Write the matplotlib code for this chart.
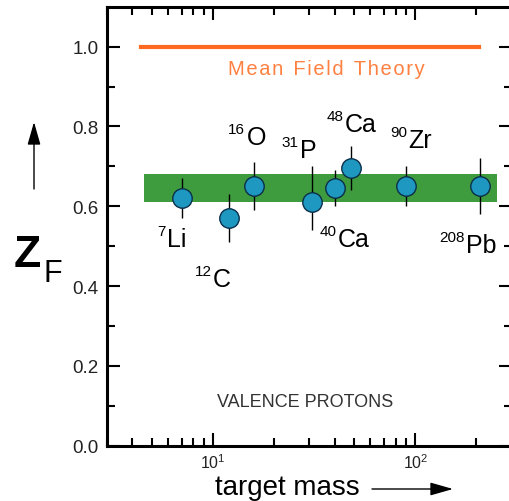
import matplotlib
matplotlib.use("Agg")
import matplotlib.pyplot as plt

plt.rcParams['font.family'] = ['Liberation Sans', 'DejaVu Sans']
plt.rcParams['mathtext.fontset'] = 'custom'
plt.rcParams['mathtext.rm'] = 'Liberation Sans'

# valence proton quenching factors
nuclei = ['Li', 'C', 'O', 'P', 'Ca', 'Ca', 'Zr', 'Pb']
mass_no = ['7', '12', '16', '31', '40', '48', '90', '208']
masses = [7, 12, 16, 31, 40, 48, 90, 208]
zf = [0.62, 0.57, 0.65, 0.61, 0.645, 0.695, 0.65, 0.65]
err_lo = [0.05, 0.06, 0.06, 0.07, 0.045, 0.055, 0.05, 0.07]
err_hi = [0.05, 0.06, 0.06, 0.09, 0.045, 0.055, 0.05, 0.07]

mft_value = 1.0
mft_range = [4.4, 206]
band_lo, band_hi = 0.61, 0.68
band_range = [4.57, 253]

# where the element names sit (left edge of symbol, baseline)
lab_x = [5.93, 10.0, 14.7, 26.8, 41.3, 44.7, 92.4, 178]
lab_y = [0.501, 0.400, 0.756, 0.723, 0.500, 0.789, 0.749, 0.485]

fig = plt.figure(figsize=(5.1, 5.02), dpi=100)
ax = fig.add_axes([0.2098, 0.1102, 0.7941, 0.8743])
ax.set_xscale('log')
ax.set_xlim(3, 300)
ax.set_ylim(0, 1.1)

ax.fill_between(band_range, band_lo, band_hi, color='#3e9c3e', lw=0, zorder=1)
ax.plot(mft_range, [mft_value, mft_value], color='#ff6a20', lw=3, zorder=2)
# letter-spaced label (hair spaces between letters, en spaces between words)
mft_label = '\u2002'.join('\u200a'.join(w) for w in 'Mean Field Theory'.split())
ax.text(36.5, 0.932, mft_label, color='#ff8040', fontsize=14.5,
        ha='center', va='baseline')

ax.errorbar(masses, zf, yerr=[err_lo, err_hi], fmt='none', ecolor='k',
            elinewidth=1, capsize=0, zorder=3)
ax.plot(masses, zf, 'o', ms=14, mfc='#1e98c0', mec='#0a2f4a', mew=1,
        zorder=4)

for el, a, x, y in zip(nuclei, mass_no, lab_x, lab_y):
    ax.text(x, y, el, fontsize=18, ha='left', va='baseline')
    ax.annotate(a, xy=(x, y), xytext=(-1, 8), textcoords='offset points',
                fontsize=11, ha='right', va='baseline')

ax.text(28.4, 0.100, 'VALENCE PROTONS', fontsize=13, color='#333333',
        ha='center', va='baseline')

ax.set_yticks([0, 0.2, 0.4, 0.6, 0.8, 1.0])
ax.set_yticks([0.1, 0.3, 0.5, 0.7, 0.9], minor=True)
ax.set_yticklabels(['0.0', '0.2', '0.4', '0.6', '0.8', '1.0'])
ax.tick_params(which='both', direction='in', top=True, right=True, width=1.5,
               colors='k')
ax.tick_params(which='major', length=9.5)
ax.tick_params(which='minor', length=5.5)
ax.tick_params(axis='y', labelsize=13.5, pad=6, labelcolor='#222222')
ax.tick_params(axis='x', labelsize=11.5, pad=5, labelcolor='#222222')
for s in ax.spines.values():
    s.set_linewidth(2.2)

# axis titles with arrows
fig.text(14 / 510, 1 - 267 / 502, 'Z', fontsize=32, fontweight='bold',
         ha='left', va='baseline')
fig.text(43 / 510, 1 - 282 / 502, 'F', fontsize=22, ha='left', va='baseline')
fig.text(215 / 510, 1 - 495 / 502, 'target mass', fontsize=20,
         ha='left', va='baseline')

arrow = dict(arrowstyle='-|>,head_length=1.4,head_width=0.4', color='k',
             lw=1, shrinkA=0, shrinkB=0, mutation_scale=10)
ax.annotate('', xy=(34 / 510, 1 - 123 / 502), xytext=(34 / 510, 1 - 190 / 502),
            xycoords='figure fraction', textcoords='figure fraction',
            arrowprops=arrow, annotation_clip=False)
ax.annotate('', xy=(453 / 510, 1 - 490 / 502), xytext=(372 / 510, 1 - 490 / 502),
            xycoords='figure fraction', textcoords='figure fraction',
            arrowprops=arrow, annotation_clip=False)

fig.savefig('out.png', dpi=100)
